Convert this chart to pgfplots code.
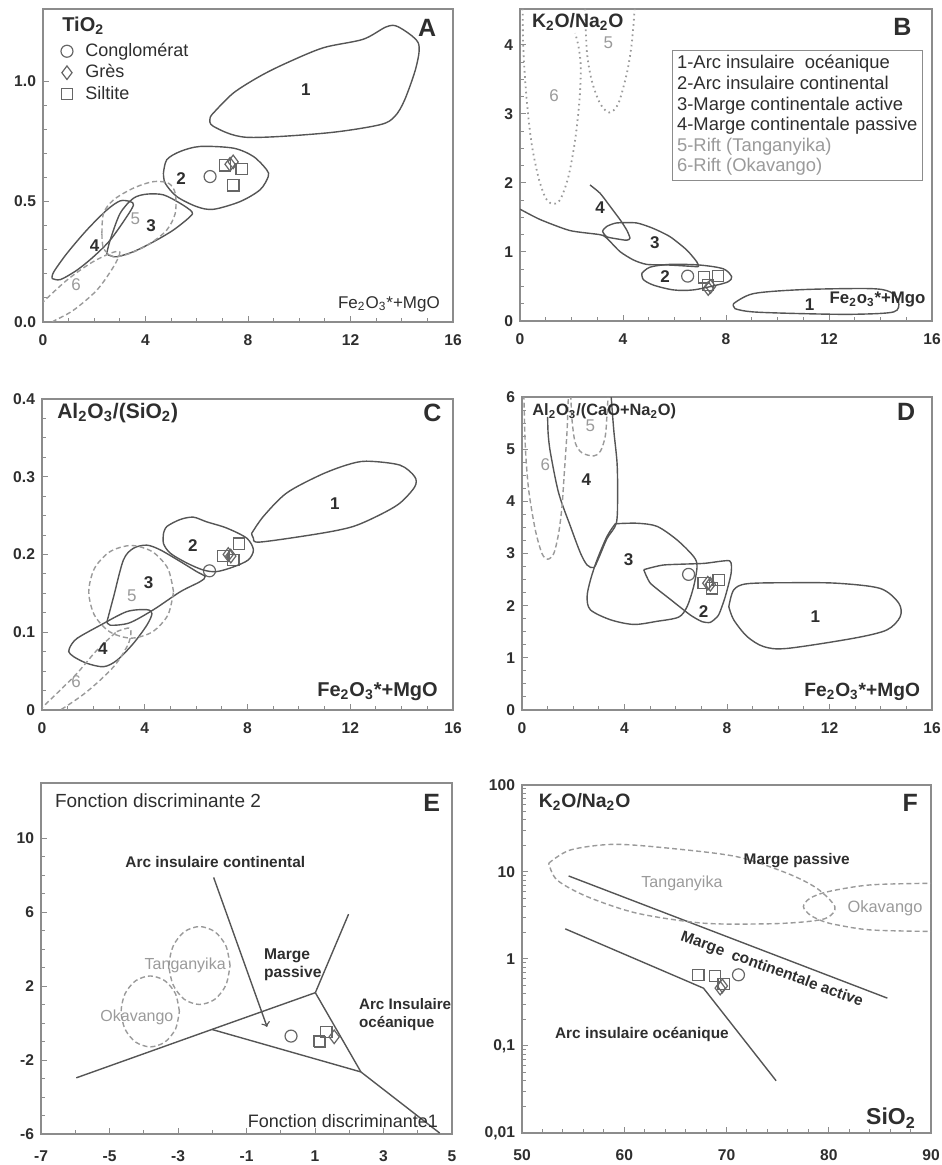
\documentclass[border=0pt]{standalone}
\usepackage{pgfplots}
\pgfplotsset{compat=1.18}
\usepackage{fontspec}
\setmainfont{Liberation Sans}
\definecolor{txt}{HTML}{2E2E2E}
\definecolor{ln}{HTML}{555555}
\definecolor{rift}{HTML}{9A9A9A}
\definecolor{frame}{HTML}{8C8C8C}
\definecolor{mk}{HTML}{666666}
\newcommand{\fs}[1]{\fontsize{#1}{#1}\selectfont}
\pgfplotsset{
  base/.style={scale only axis, anchor=south west, clip mode=individual,
    axis line style={draw=frame, line width=0.6pt},
    tick align=inside, xtick pos=bottom, ytick pos=left,
    major tick length=3pt, minor tick length=1.8pt,
    every tick/.style={frame, line width=0.5pt},
    tick label style={font=\fs{7.8}\bfseries, text=txt},
    /pgf/number format/assume math mode=true},
  topx/.style={xmin=0, xmax=16, xtick={0,4,8,12,16}, minor x tick num=3,
    xticklabel style={yshift=-3pt}},
  reg/.style={draw=ln, line width=0.7pt, smooth, tension=0.5, mark=none},
  rft/.style={draw=rift, line width=0.7pt, dash pattern=on 2.5pt off 1.5pt, smooth, tension=0.5, mark=none},
  dot/.style={draw=rift, line width=0.9pt, dash pattern=on 0.8pt off 1.8pt, smooth, tension=0.5, mark=none},
  sgl/.style={draw=ln, line width=0.7pt, mark=none},
  cg/.style={only marks, mark=o, mark size=3pt, mk, mark options={line width=0.6pt}},
  gr/.style={only marks, mark=diamond, mark size=3.4pt, mk, mark options={line width=0.6pt}},
  si/.style={only marks, mark=square, mark size=2.8pt, mk, mark options={line width=0.6pt}},
}
\begin{document}
\begin{tikzpicture}
\useasboundingbox (0pt,0pt) rectangle (470.5pt,582.5pt);

% ---------------- A ----------------
\begin{axis}[base, topx, at={(21.5pt,421.5pt)}, width=205pt, height=156.5pt,
  ymin=0, ymax=1.3, ytick={0,0.5,1}, yticklabels={0.0,0.5,1.0}, minor y tick num=4,
  legend entries={Conglomérat, Grès, Siltite},
  legend cell align=left,
  legend style={at={(0.026,0.905)}, anchor=north west, draw=none, fill=none,
    font=\fs{9}, text=txt, inner sep=0pt, row sep=-1.4pt},
  legend image code/.code={\path (0cm,0cm) (0.465cm,0cm); \draw[mark repeat=2,mark phase=2,#1] plot coordinates {(0cm,0cm)(0.22cm,0cm)(0.44cm,0cm)};}]
\addplot[cg] coordinates {(6.52,0.604)};
\addplot[gr] coordinates {(7.30,0.655)(7.42,0.665)};
\addplot[si] coordinates {(7.10,0.65)(7.75,0.635)(7.43,0.567)};
\addplot[reg] coordinates {(6.65,0.868)(7.43,0.951)(8.47,1.021)(9.51,1.076)(10.94,1.139)(12.49,1.174)(13.40,1.226)(13.86,1.226)(14.64,1.160)(14.57,1.0625)(14.12,0.924)(13.73,0.854)(13.14,0.819)(11.06,0.785)(7.95,0.767)(6.65,0.8125)(6.52,0.847)(6.65,0.868)};
\addplot[reg] coordinates {(4.70,0.618)(4.83,0.674)(5.35,0.708)(6.13,0.729)(7.43,0.722)(8.21,0.6875)(8.73,0.632)(8.79,0.604)(8.47,0.549)(7.69,0.5)(6.65,0.468)(6.0,0.479)(5.22,0.521)(4.77,0.576)(4.70,0.618)};
\addplot[reg] coordinates {(2.49,0.285)(2.62,0.340)(3.01,0.451)(3.53,0.514)(4.05,0.531)(4.70,0.528)(5.35,0.493)(5.81,0.458)(5.74,0.4375)(5.09,0.382)(4.31,0.333)(3.53,0.292)(2.88,0.271)(2.56,0.278)(2.49,0.285)};
\addplot[reg] coordinates {(0.35,0.181)(0.42,0.208)(0.935,0.285)(1.71,0.382)(2.49,0.465)(3.01,0.503)(3.40,0.5)(3.53,0.486)(3.27,0.4375)(2.62,0.340)(1.97,0.271)(1.32,0.215)(0.675,0.176)(0.35,0.181)};
\addplot[rft] coordinates {(2.30,0.368)(2.36,0.451)(2.75,0.507)(3.53,0.556)(4.31,0.583)(4.90,0.576)(5.16,0.535)(5.16,0.451)(4.83,0.382)(4.18,0.326)(3.40,0.285)(2.75,0.271)(2.36,0.306)(2.30,0.368)};
\addplot[rft] coordinates {(-0.3,0.05)(0.0,0.083)(0.935,0.174)(1.84,0.243)(2.62,0.285)(3.0,0.29)(2.75,0.229)(2.10,0.132)(1.19,0.049)(0.42,0.004)(0.0,-0.02)(-0.3,0.05)};
\node[anchor=west, font=\fs{10}\bfseries, text=txt] at (rel axis cs:0.03,0.946) {TiO\textsubscript{2}};
\node[anchor=east, font=\fs{12.5}\bfseries, text=txt] at (rel axis cs:0.976,0.941) {A};
\node[anchor=east, font=\fs{8.5}, text=txt] at (rel axis cs:0.985,0.058) {Fe\textsubscript{2}O\textsubscript{3}*+MgO};
\node[font=\fs{8.5}\bfseries, text=txt] at (axis cs:10.26,0.965) {1};
\node[font=\fs{8.5}\bfseries, text=txt] at (axis cs:5.39,0.597) {2};
\node[font=\fs{8.5}\bfseries, text=txt] at (axis cs:4.22,0.40) {3};
\node[font=\fs{8.5}\bfseries, text=txt] at (axis cs:2.01,0.319) {4};
\node[font=\fs{8.5}, text=rift] at (axis cs:3.60,0.43) {5};
\node[font=\fs{8.5}, text=rift] at (axis cs:1.29,0.153) {6};
\end{axis}

% ---------------- B ----------------
\begin{axis}[base, topx, at={(260pt,422pt)}, width=206pt, height=156pt,
  ymin=0, ymax=4.52, ytick={0,1,2,3,4}, minor y tick num=3]
\addplot[cg] coordinates {(6.51,0.65)};
\addplot[gr] coordinates {(7.31,0.47)(7.40,0.50)};
\addplot[si] coordinates {(7.15,0.63)(7.70,0.65)(7.31,0.52)};
\addplot[reg] coordinates {(8.29,0.25)(9.07,0.397)(11.01,0.455)(13.60,0.469)(14.38,0.42)(14.70,0.276)(14.51,0.131)(12.95,0.097)(11.01,0.106)(9.07,0.131)(8.35,0.179)(8.29,0.25)};
\addplot[reg] coordinates {(4.73,0.69)(5.05,0.78)(5.83,0.82)(6.99,0.81)(7.90,0.755)(8.22,0.64)(8.09,0.57)(7.64,0.52)(6.73,0.45)(5.96,0.45)(5.18,0.52)(4.79,0.60)(4.73,0.69)};
\addplot[reg, tension=0.4] coordinates {(0,1.62)(0.78,1.47)(1.94,1.31)(3.11,1.25)(3.37,1.20)(3.88,1.006)(4.40,0.885)(4.92,0.82)(5.83,0.81)(6.73,0.79)(6.93,0.79)(6.86,0.86)(6.47,1.03)(5.83,1.22)(5.18,1.34)(4.53,1.42)(3.75,1.42)(3.37,1.37)(3.21,1.30)(3.37,1.22)(3.75,1.19)(4.14,1.17)(4.27,1.20)(4.14,1.32)(3.88,1.47)(3.50,1.66)(3.11,1.85)(2.72,1.97)};
\addplot[dot] coordinates {(2.53,4.6)(2.59,3.93)(2.78,3.49)(3.11,3.15)(3.47,3.02)(3.82,3.15)(4.15,3.59)(4.34,4.02)(4.47,4.6)};
\addplot[dot] coordinates {(0.10,4.6)(0.13,3.93)(0.26,3.20)(0.45,2.57)(0.71,2.09)(0.97,1.80)(1.23,1.70)(1.55,1.75)(1.88,2.09)(2.14,2.62)(2.31,3.20)(2.36,3.69)(2.27,3.98)(2.14,4.17)};
\node[anchor=west, font=\fs{9.7}\bfseries, text=txt] at (rel axis cs:0.012,0.958) {K\textsubscript{2}O/Na\textsubscript{2}O};
\node[anchor=east, font=\fs{12.5}\bfseries, text=txt] at (rel axis cs:0.967,0.943) {B};
\node[anchor=north west, draw=frame, line width=0.5pt, fill=white, inner xsep=2.5pt, inner ysep=2.5pt, align=left, font=\fontsize{9.2}{10.3}\selectfont, text=txt] at (rel axis cs:0.368,0.869)
 {1-Arc insulaire\ \ océanique\\2-Arc insulaire continental\\3-Marge continentale active\\4-Marge continentale passive\\\textcolor{rift}{5-Rift (Tanganyika)}\\\textcolor{rift}{6-Rift (Okavango)}};
\node[anchor=east, font=\fs{8.4}\bfseries, text=txt, inner sep=1pt] at (rel axis cs:0.99,0.068) {Fe\textsubscript{2}o\textsubscript{3}*+Mgo};
\node[font=\fs{8.5}\bfseries, text=txt] at (axis cs:11.25,0.24) {1};
\node[font=\fs{8.5}\bfseries, text=txt] at (axis cs:5.63,0.65) {2};
\node[font=\fs{8.5}\bfseries, text=txt] at (axis cs:5.24,1.13) {3};
\node[font=\fs{8.5}\bfseries, text=txt] at (axis cs:3.11,1.64) {4};
\node[font=\fs{8.5}, text=rift] at (axis cs:3.43,4.03) {5};
\node[font=\fs{8.5}, text=rift] at (axis cs:1.32,3.26) {6};
\end{axis}

% ---------------- C ----------------
\begin{axis}[base, topx, at={(21pt,227.5pt)}, width=205.5pt, height=155.5pt,
  ymin=0, ymax=0.4, ytick={0,0.1,0.2,0.3,0.4}, minor y tick num=3]
\addplot[cg] coordinates {(6.52,0.179)};
\addplot[gr] coordinates {(7.25,0.200)(7.35,0.198)};
\addplot[si] coordinates {(7.06,0.198)(7.68,0.214)(7.45,0.193)};
\addplot[reg] coordinates {(8.16,0.227)(8.62,0.249)(9.52,0.279)(10.82,0.302)(11.85,0.315)(12.63,0.320)(13.93,0.315)(14.51,0.300)(14.51,0.287)(13.93,0.266)(13.15,0.251)(12.11,0.236)(10.82,0.227)(8.49,0.216)(8.23,0.221)(8.16,0.227)};
\addplot[reg] coordinates {(4.73,0.227)(4.86,0.236)(5.38,0.245)(5.89,0.248)(6.41,0.242)(7.19,0.234)(7.97,0.221)(8.23,0.206)(8.03,0.193)(7.45,0.184)(6.80,0.178)(6.28,0.180)(5.64,0.189)(5.0,0.2015)(4.73,0.214)(4.73,0.227)};
\addplot[reg] coordinates {(2.53,0.1136)(2.79,0.146)(3.17,0.193)(3.56,0.208)(4.08,0.212)(4.60,0.206)(5.38,0.191)(6.02,0.178)(6.35,0.1715)(6.15,0.165)(5.38,0.152)(4.34,0.129)(3.40,0.112)(2.66,0.109)(2.53,0.1136)};
\addplot[reg] coordinates {(1.10,0.0815)(1.36,0.092)(2.27,0.109)(3.30,0.1265)(4.08,0.129)(4.28,0.124)(4.08,0.109)(3.56,0.0857)(2.92,0.064)(2.40,0.0557)(1.75,0.060)(1.23,0.0686)(1.04,0.075)(1.10,0.0815)};
\addplot[rft] coordinates {(5.12,0.152)(4.90,0.182)(4.295,0.2036)(3.47,0.2116)(2.645,0.2036)(2.041,0.182)(1.82,0.152)(2.041,0.122)(2.645,0.1004)(3.47,0.0924)(4.295,0.1004)(4.90,0.122)(5.12,0.152)};
\addplot[rft] coordinates {(2.91,0.1008)(3.43,0.105)(3.37,0.0857)(2.79,0.0557)(1.75,0.0236)(0.71,0)(0.06,-0.0086)(-0.06,0)(0.58,0.0214)(1.36,0.047)(2.14,0.077)(2.91,0.1008)};
\node[anchor=west, font=\fs{10.5}\bfseries, text=txt] at (rel axis cs:0.02,0.955) {Al\textsubscript{2}O\textsubscript{3}/(SiO\textsubscript{2})};
\node[anchor=east, font=\fs{12.5}\bfseries, text=txt] at (rel axis cs:0.989,0.955) {C};
\node[anchor=east, font=\fs{10}\bfseries, text=txt] at (rel axis cs:0.98,0.058) {Fe\textsubscript{2}O\textsubscript{3}*+MgO};
\node[font=\fs{8.5}\bfseries, text=txt] at (axis cs:11.40,0.265) {1};
\node[font=\fs{8.5}\bfseries, text=txt] at (axis cs:5.87,0.211) {2};
\node[font=\fs{8.5}\bfseries, text=txt] at (axis cs:4.15,0.164) {3};
\node[font=\fs{8.5}\bfseries, text=txt] at (axis cs:2.37,0.079) {4};
\node[font=\fs{8.5}, text=rift] at (axis cs:3.50,0.147) {5};
\node[font=\fs{8.5}, text=rift] at (axis cs:1.33,0.036) {6};
\end{axis}

% ---------------- D ----------------
\begin{axis}[base, topx, at={(261pt,227.5pt)}, width=205pt, height=156.5pt,
  ymin=0, ymax=6, ytick={0,1,2,3,4,5,6}, minor y tick num=3]
\addplot[cg] coordinates {(6.50,2.60)};
\addplot[gr] coordinates {(7.25,2.43)(7.35,2.41)};
\addplot[si] coordinates {(7.09,2.44)(7.67,2.49)(7.41,2.33)};
\addplot[reg] coordinates {(8.07,1.98)(8.26,2.30)(8.78,2.42)(10.47,2.44)(12.29,2.43)(13.98,2.33)(14.70,2.05)(14.76,1.79)(14.24,1.535)(12.94,1.375)(10.34,1.18)(9.43,1.215)(8.78,1.41)(8.26,1.73)(8.07,1.98)};
\addplot[reg, tension=0.35] coordinates {(4.75,2.69)(5.53,2.78)(7.09,2.81)(8.10,2.86)(8.16,2.62)(7.93,2.17)(7.67,1.82)(7.35,1.68)(7.02,1.695)(6.57,1.82)(5.79,2.12)(5.01,2.43)(4.75,2.69)};
\addplot[reg] coordinates {(3.64,3.57)(4.49,3.58)(5.27,3.52)(6.05,3.26)(6.70,2.94)(6.83,2.75)(6.70,2.37)(6.44,1.98)(6.11,1.78)(5.27,1.70)(4.36,1.64)(3.45,1.73)(2.67,1.92)(2.54,2.17)(2.67,2.49)(2.93,2.88)(3.32,3.33)(3.64,3.57)};
\addplot[reg] coordinates {(1.0,5.62)(1.02,5.3)(1.11,4.93)(1.43,4.16)(1.89,3.52)(2.28,3.01)(2.54,2.78)(2.80,2.73)(2.99,2.91)(3.32,3.29)(3.68,3.58)(3.73,4.09)(3.71,4.73)(3.58,5.37)(3.45,6.2)};
\addplot[rft] coordinates {(1.89,6.2)(1.95,5.57)(2.08,5.12)(2.34,4.93)(2.80,4.87)(3.06,4.96)(3.25,5.25)(3.32,5.69)(3.38,6.2)};
\addplot[rft] coordinates {(0.065,6.2)(0.13,5.05)(0.26,4.22)(0.52,3.45)(0.78,3.0)(1.0,2.89)(1.24,3.0)(1.43,3.39)(1.56,3.90)(1.65,4.54)(1.76,5.37)(1.82,6.2)};
\node[anchor=west, font=\fs{8.2}\bfseries, text=txt] at (rel axis cs:0.008,0.953) {Al\textsubscript{2}O\textsubscript{3}/(CaO+Na\textsubscript{2}O)};
\node[anchor=east, font=\fs{12.5}\bfseries, text=txt] at (rel axis cs:0.976,0.953) {D};
\node[anchor=east, font=\fs{9.6}\bfseries, text=txt] at (rel axis cs:0.988,0.058) {Fe\textsubscript{2}O\textsubscript{3}*+MgO};
\node[font=\fs{8.5}\bfseries, text=txt] at (axis cs:11.45,1.78) {1};
\node[font=\fs{8.5}\bfseries, text=txt] at (axis cs:7.09,1.89) {2};
\node[font=\fs{8.5}\bfseries, text=txt] at (axis cs:4.16,2.88) {3};
\node[font=\fs{8.5}\bfseries, text=txt] at (axis cs:2.51,4.41) {4};
\node[font=\fs{8.5}, text=rift] at (axis cs:2.67,5.44) {5};
\node[font=\fs{8.5}, text=rift] at (axis cs:0.91,4.70) {6};
\end{axis}

% ---------------- E ----------------
\begin{axis}[base, at={(20.5pt,15.5pt)}, width=205.5pt, height=175.5pt,
  xmin=-7, xmax=5, ymin=-6, ymax=13,
  xtick={-7,-5,-3,-1,1,3,5}, xticklabels={-7,-5,-3,-1,1,3,5}, minor x tick num=1,
  ytick={-6,-2,2,6,10}, yticklabels={-6,-2,2,6,10}, minor y tick num=3,
  xticklabel style={yshift=-5pt}]
\addplot[cg] coordinates {(0.30,-0.70)};
\addplot[gr] coordinates {(1.56,-0.74)};
\addplot[si] coordinates {(1.14,-1.01)(1.33,-0.49)(1.12,-0.95)};
\addplot[sgl] coordinates {(-5.97,-2.96)(-2.01,-0.34)(1.01,1.65)};
\addplot[sgl] coordinates {(-2.01,-0.34)(2.34,-2.64)(4.64,-5.95)};
\addplot[sgl] coordinates {(1.01,1.65)(2.34,-2.64)};
\addplot[sgl] coordinates {(1.01,1.65)(1.98,5.90)};
\addplot[sgl, ->] coordinates {(-1.96,7.89)(-0.40,-0.20)};
\addplot[rft] coordinates {(-1.48,3.12)(-1.60,4.18)(-1.925,4.95)(-2.37,5.23)(-2.815,4.95)(-3.14,4.18)(-3.26,3.12)(-3.14,2.065)(-2.815,1.29)(-2.37,1.01)(-1.925,1.29)(-1.60,2.065)(-1.48,3.12)};
\addplot[rft] coordinates {(-2.96,0.635)(-3.074,1.595)(-3.385,2.298)(-3.81,2.555)(-4.235,2.298)(-4.546,1.595)(-4.66,0.635)(-4.546,-0.325)(-4.235,-1.028)(-3.81,-1.285)(-3.385,-1.028)(-3.074,-0.325)(-2.96,0.635)};
\node[anchor=west, font=\fs{9.5}, text=txt] at (rel axis cs:0.017,0.95) {Fonction discriminante 2};
\node[anchor=east, font=\fs{12.5}\bfseries, text=txt] at (rel axis cs:0.988,0.943) {E};
\node[anchor=east, font=\fs{9}, text=txt] at (rel axis cs:0.983,0.037) {Fonction discriminante1};
\node[font=\fs{7.7}\bfseries, text=txt] at (axis cs:-1.91,8.73) {Arc insulaire continental};
\node[anchor=west, align=left, font=\fontsize{7.8}{9}\selectfont\bfseries, text=txt] at (axis cs:-0.69,3.18) {Marge\\passive};
\node[anchor=west, align=left, font=\fontsize{7.6}{9}\selectfont\bfseries, text=txt] at (axis cs:2.08,0.47) {Arc Insulaire\\océanique};
\node[font=\fs{8}, text=rift] at (axis cs:-2.79,3.15) {Tanganyika};
\node[font=\fs{8}, text=rift] at (axis cs:-4.20,0.29) {Okavango};
\end{axis}

% ---------------- F ----------------
\begin{axis}[base, at={(261pt,16pt)}, width=204.5pt, height=174pt,
  xmin=50, xmax=90, xtick={50,60,70,80,90}, minor x tick num=4,
  ymode=log, ymin=0.01, ymax=100, ytick={0.01,0.1,1,10,100},
  yticklabels={0{,}01,0{,}1,1,10,100},
  xticklabel style={yshift=-5pt}]
\addplot[cg] coordinates {(71.17,0.658)};
\addplot[gr] coordinates {(69.38,0.463)(69.6,0.49)};
\addplot[si] coordinates {(67.26,0.657)(68.89,0.641)(69.71,0.519)};
\addplot[sgl] coordinates {(54.56,9.0)(85.73,0.355)};
\addplot[sgl] coordinates {(54.23,2.22)(67.75,0.462)(74.85,0.0399)};
\addplot[rft] coordinates {(52.61,12.6)(54.72,17.9)(58.96,20.8)(64.5,18.7)(71.0,15.0)(75.9,9.7)(78.83,6.5)(80.6,4.0)(79.9,3.0)(78.0,2.7)(74.27,2.54)(67.75,2.58)(61.24,3.36)(56.35,5.22)(53.42,8.1)(52.61,12.6)};
\addplot[rft] coordinates {(92,7.5)(90,7.43)(84.04,7.1)(79.97,5.96)(78.18,5.0)(77.52,4.0)(78.18,3.2)(79.48,2.70)(80.78,2.47)(84.04,2.16)(90,2.07)(92,2.06)};
\node[anchor=west, font=\fs{9.7}\bfseries, text=txt] at (rel axis cs:0.024,0.952) {K\textsubscript{2}O/Na\textsubscript{2}O};
\node[anchor=east, font=\fs{12.5}\bfseries, text=txt] at (rel axis cs:0.985,0.948) {F};
\node[anchor=east, font=\fs{11.5}\bfseries, text=txt] at (rel axis cs:0.98,0.043) {SiO\textsubscript{2}};
\node[font=\fs{7.7}\bfseries, text=txt] at (axis cs:76.87,13.5) {Marge passive};
\node[font=\fs{8}, text=rift] at (axis cs:65.64,7.43) {Tanganyika};
\node[font=\fs{8.2}, text=rift] at (axis cs:85.5,3.84) {Okavango};
\node[font=\fs{7.7}\bfseries, text=txt, rotate=-20, inner sep=0.5pt] at (axis cs:74.43,0.751) {Marge\ \ continentale active};
\node[font=\fs{7.7}\bfseries, text=txt] at (axis cs:61.73,0.1346) {Arc insulaire océanique};
\end{axis}
\end{tikzpicture}
\end{document}
